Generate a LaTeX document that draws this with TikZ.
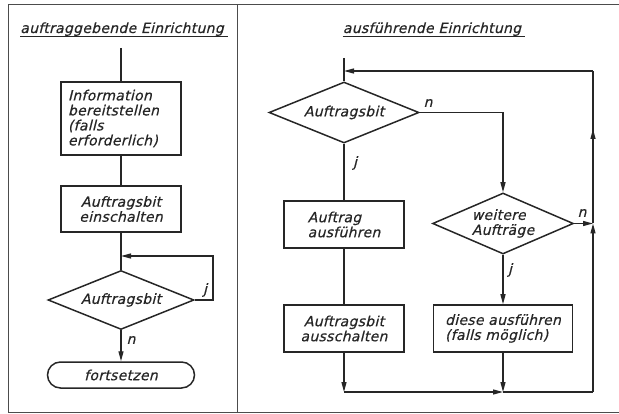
\documentclass[tikz,border=0pt]{standalone}
\usepackage{fontspec}
\newfontfamily\dinfont{DejaVu Sans}[LetterSpace=2, FakeSlant=0.25, FakeBold=0.6]
\usetikzlibrary{shapes.geometric,arrows.meta,decorations.markings}

\tikzset{
  ink/.style={draw=black!85, line width=1.3pt},
  lbl/.style={font=\dinfont\fontsize{14}{15}\selectfont, text=black!85},
  proc/.style={ink, line width=1.5pt, rectangle, inner sep=0pt,
    minimum width=120pt, minimum height=47pt, align=center, lbl},
  dec/.style={ink, line width=1.5pt, diamond, aspect=2.5, inner sep=1pt,
    align=left, lbl},
  term/.style={ink, line width=1.5pt, rectangle, rounded corners=13pt,
    minimum width=147pt, minimum height=26pt, inner sep=0pt, lbl},
  tip/.style={-{Triangle[length=10pt,width=5pt]}},
  flow/.style={ink, tip},
  midtip/.style={postaction={decorate}, decoration={markings,
    mark=at position #1 with {\arrow{Triangle[length=10pt,width=5pt]}}}},
  frame/.style={draw=black!70, line width=1pt},
  yn/.style={lbl, inner sep=0pt},
  head/.style={lbl, anchor=base, inner sep=0pt},
  uline/.style={draw=black!85, line width=1pt}
}

\begin{document}
\begin{tikzpicture}[x=1pt,y=-1pt]
\useasboundingbox (0,0) rectangle (619,414);

% outer frame and divider
\draw[frame] (8,412) -- (8,5) -- (619,5);
\draw[frame] (237,5) -- (237,412);
\draw[frame] (8,412) -- (619,412);

% ---------- left column ----------
\node[head] (tl) at (122,33) {auftraggebende Einrichtung};
\draw[uline] ([yshift=-3.5pt]tl.base west) -- ([xshift=4pt,yshift=-3.5pt]tl.base east);

\coordinate (ls) at (121,48);
\node[proc, text width=106pt, align=left, minimum height=73pt, inner xsep=7pt]
  (inf) at (121,118.5) {Information\\bereitstellen\\(falls\\erforderlich)};
\node[proc, minimum height=46pt] (ein) at (121,209) {Auftragsbit\\einschalten};
\coordinate (lj) at (121,256);
\node[dec, minimum width=146pt, minimum height=59pt] (lq) at (121,300) {Auftragsbit};
\node[term] (fort) at (121,375) {fortsetzen};
\coordinate (lr) at (213,300);
\coordinate (lt) at (213,256);

\draw[ink] (ls) -- (inf);
\draw[ink] (inf) -- (ein);
\draw[ink] (ein) -- (lq);
\draw[flow] (lq.east) -- (lr) -- (lt) -- (lj);
\draw[flow] (lq) -- (fort);
\node[yn] at (205,290) {j};
\node[yn] at (131,340) {n};

% ---------- right column ----------
\node[head] (tr) at (432,33) {ausführende Einrichtung};
\draw[uline] ([yshift=-3.5pt]tr.base west) -- ([xshift=4pt,yshift=-3.5pt]tr.base east);

\coordinate (rs) at (344,58);
\coordinate (rj) at (344,71);
\node[dec, minimum width=150pt, minimum height=61pt] (ra) at (344,112.5) {Auftragsbit};
\node[proc, align=left] (rb) at (344,224.5) {Auftrag\\ausführen};
\node[proc] (rc) at (344,328.5) {Auftragsbit\\ausschalten};
\coordinate (rbl) at (344,392);
\coordinate (rn) at (503,112.5);
\node[dec, minimum width=137pt, minimum height=61pt] (rw) at (503,223.5) {weitere\\Aufträge};
\node[proc, align=left, minimum width=139pt] (rd) at (503,328.5) {diese ausführen\\(falls möglich)};
\coordinate (rdj) at (503,392);
\coordinate (rbr) at (593,392);
\coordinate (rrj) at (593,223.5);
\coordinate (rtr) at (593,71);

\draw[ink] (rs) -- (ra);
\draw[ink] (ra) -- (rb);
\draw[ink] (rb) -- (rc);
\draw[flow] (rc) -- (rbl);
\draw[flow] (rbl) -- (rdj);
\draw[flow] (rw) -- (rd);
\draw[flow] (rd) -- (rdj);
\draw[ink] (rdj) -- (rbr);
\draw[flow] (rbr) -- (rrj);
\draw[ink, midtip=0.62] (rrj) -- (rtr);
\draw[flow] (rtr) -- (rj);
\draw[flow] (ra.east) -- (rn) -- (rw.north);
\draw[flow] (rw.east) -- (rrj);

\node[yn] at (428,103) {n};
\node[yn] at (355,163) {j};
\node[yn] at (582,213) {n};
\node[yn] at (510,270) {j};
\end{tikzpicture}
\end{document}
